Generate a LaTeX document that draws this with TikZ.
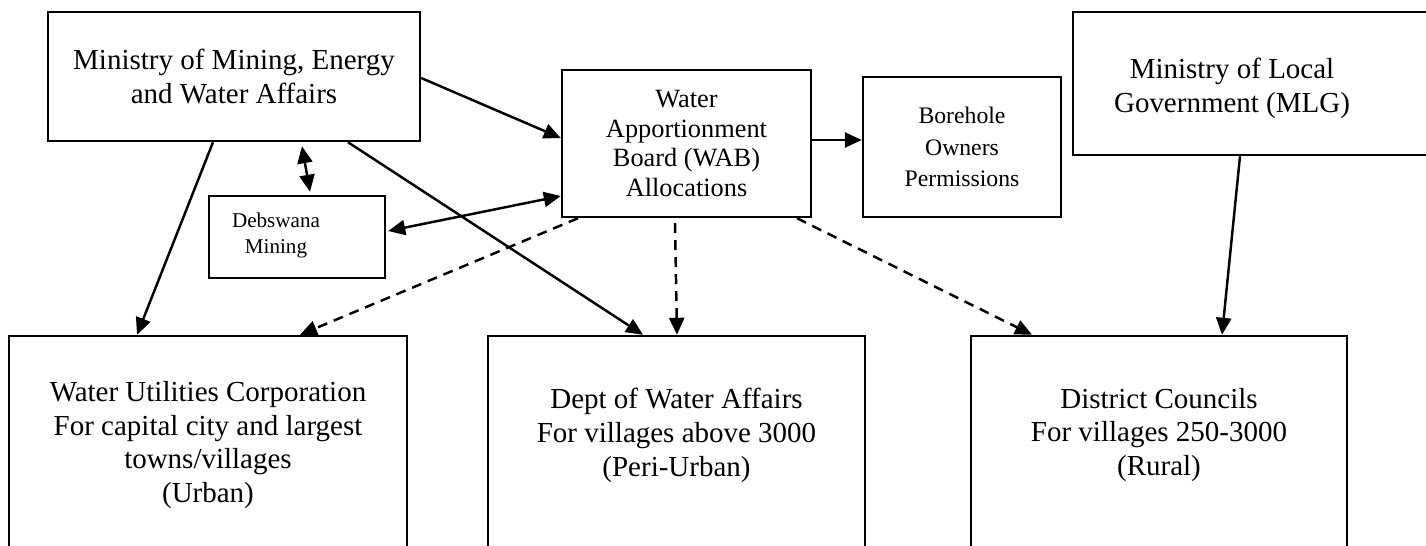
\documentclass[tikz,border=0pt]{standalone}
\usepackage{fontspec}
\setmainfont{Liberation Serif}
\usetikzlibrary{arrows.meta,calc}

\begin{document}
\begin{tikzpicture}[x=0.02cm,y=-0.02cm,
  box/.style={draw,line width=1.4pt,inner sep=0pt,align=center},
  big/.style={font=\fontsize{16.5}{19.3}\selectfont,align=center},
  link/.style={line width=1.4pt,-{Triangle[length=0.34cm,width=0.3cm]}},
  twoway/.style={line width=1.4pt,{Triangle[length=0.34cm,width=0.3cm]}-{Triangle[length=0.34cm,width=0.3cm]}},
  dashlink/.style={link,dash pattern=on 0.2cm off 0.14cm}]
\clip (0,0) rectangle (1426,545);
\node[box,big,minimum width=7.44cm,minimum height=2.58cm] (mmewa) at (234,76.5) {Ministry of Mining, Energy\\and Water Affairs};
\node[box,font=\fontsize{15}{17}\selectfont,minimum width=4.98cm,minimum height=2.94cm] (wab) at (686.5,143.5) {Water\\Apportionment\\Board (WAB)\\Allocations};
\node[box,font=\fontsize{13.5}{17.9}\selectfont,minimum width=3.96cm,minimum height=2.8cm] (bore) at (962,147) {Borehole\\Owners\\Permissions};
\node[box,minimum width=7.34cm,minimum height=2.86cm] (mlg) at (1256.5,83.5) {};
\node[big] (mlgtext) at (1232,88) {Ministry of Local\\Government (MLG)};
\node[box,minimum width=3.52cm,minimum height=1.64cm] (deb) at (297,237) {};
\node[font=\fontsize{12}{14.8}\selectfont,align=center] (debtext) at (276,235) {Debswana\\Mining};
\node[box,minimum width=7.96cm,minimum height=4.68cm] (wuc) at (208,453) {};
\node[big] (wuctext) at (208,445) {Water Utilities Corporation\\For capital city and largest\\towns/villages\\(Urban)};
\node[box,minimum width=7.54cm,minimum height=4.68cm] (dwa) at (676.5,453) {};
\node[big] (dwatext) at (676.5,435) {Dept of Water Affairs\\For villages above 3000\\(Peri-Urban)};
\node[box,minimum width=7.52cm,minimum height=4.68cm] (dc) at (1159,453) {};
\node[big] (dctext) at (1159,435) {District Councils\\For villages 250-3000\\(Rural)};
\draw[link] ($(mmewa.east)+(0,1.5)$) -- ($(wab.west)+(0,-5.5)$);
\draw[link] ($(wab.east)+(0,-3.5)$) -- ($(bore.west)+(0,-7)$);
\draw[twoway] ($(mmewa.south)+(68,4)$) -- ($(deb.north)+(13,-3)$);
\draw[twoway] ($(deb.east)+(2,-6)$) -- ($(wab.west)+(0,52.5)$);
\draw[link] ($(mmewa.south)+(-21,0)$) -- ($(wuc.north)+(-71,0)$);
\draw[link] ($(mmewa.south)+(114,0)$) -- ($(dwa.north)+(-33.5,0)$);
\draw[dashlink] ($(wab.south)+(-108.5,0)$) -- ($(wuc.north)+(92,0)$);
\draw[dashlink] ($(wab.south)+(-11.5,5)$) -- ($(dwa.north)+(0.5,0)$);
\draw[dashlink] ($(wab.south)+(110.5,0)$) -- ($(dc.north)+(-127,0)$);
\draw[link] ($(mlg.south)+(-16.5,0)$) -- ($(dc.north)+(63,0)$);
\end{tikzpicture}
\end{document}
